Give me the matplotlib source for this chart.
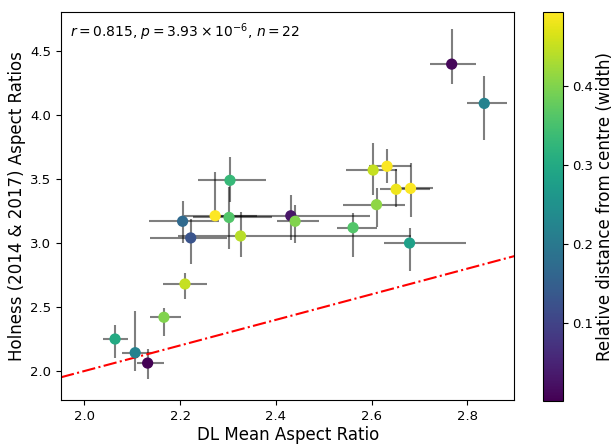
import numpy as np
import matplotlib
matplotlib.use("Agg")
from matplotlib import pyplot as plt

# DL mean aspect ratio per group, with lower/upper x error
dl_mean = [2.064, 2.106, 2.132, 2.166, 2.210, 2.205, 2.222, 2.273, 2.302, 2.304, 2.326,
           2.431, 2.440, 2.561, 2.603, 2.610, 2.632, 2.651, 2.681, 2.679, 2.767, 2.835]
dl_lo = [0.026, 0.028, 0.022, 0.030, 0.045, 0.071, 0.085, 0.066, 0.075, 0.066, 0.130,
         0.166, 0.038, 0.034, 0.056, 0.069, 0.038, 0.033, 0.028, 0.053, 0.045, 0.035]
dl_hi = [0.026, 0.035, 0.035, 0.035, 0.047, 0.075, 0.076, 0.087, 0.090, 0.076, 0.355,
         0.166, 0.049, 0.050, 0.050, 0.060, 0.049, 0.070, 0.048, 0.117, 0.051, 0.048]

# Holness (2014 & 2017) aspect ratios, with lower/upper y error
holness = [2.25, 2.143, 2.062, 2.42, 2.68, 3.17, 3.04, 3.213, 3.20, 3.49, 3.055,
           3.213, 3.17, 3.12, 3.57, 3.30, 3.60, 3.42, 3.427, 3.00, 4.398, 4.091]
hol_lo = [0.146, 0.141, 0.122, 0.147, 0.118, 0.17, 0.20, 0.03, 0.25, 0.17, 0.162,
          0.19, 0.17, 0.227, 0.195, 0.173, 0.134, 0.136, 0.227, 0.22, 0.158, 0.286]
hol_hi = [0.11, 0.326, 0.108, 0.07, 0.088, 0.16, 0.15, 0.344, 0.24, 0.18, 0.19,
          0.16, 0.13, 0.117, 0.209, 0.13, 0.132, 0.156, 0.20, 0.115, 0.272, 0.214]

# relative distance from centre (width) for the colour scale
rel_dist = [0.30, 0.22, 0.002, 0.40, 0.45, 0.17, 0.13, 0.493, 0.36, 0.33, 0.44,
            0.03, 0.40, 0.36, 0.45, 0.41, 0.49, 0.48, 0.49, 0.28, 0.01, 0.22]

stats_text = r"$r = 0.815$, $p = 3.93 \times 10^{-6}$, $n = 22$"

fig = plt.figure(figsize=(6.14, 4.46), dpi=100)
ax = fig.add_axes([0.0993, 0.103, 0.7385, 0.870])
cax = fig.add_axes([0.884, 0.101, 0.0326, 0.872])

ax.errorbar(dl_mean, holness,
            xerr=[dl_lo, dl_hi], yerr=[hol_lo, hol_hi],
            fmt="none", ecolor="k", alpha=0.5, elinewidth=1.5, zorder=1)
sc = ax.scatter(dl_mean, holness, c=rel_dist, cmap="viridis", s=50, zorder=3)

# one-to-one line
ax.axline((2.0, 2.0), (3.0, 3.0), color="r", ls="-.", lw=1.5, zorder=2)

ax.set_xlim(1.951, 2.898)
ax.set_ylim(1.773, 4.805)
ax.set_xticks([2.0, 2.2, 2.4, 2.6, 2.8])
ax.set_yticks([2.0, 2.5, 3.0, 3.5, 4.0, 4.5])
ax.tick_params(labelsize=9.5)
ax.set_xlabel("DL Mean Aspect Ratio", fontsize=12, labelpad=2)
ax.set_ylabel("Holness (2014 & 2017) Aspect Ratios", fontsize=12, labelpad=3)
ax.text(0.02, 0.975, stats_text, transform=ax.transAxes, va="top", ha="left", fontsize=10)

cb = fig.colorbar(sc, cax=cax)
cb.set_ticks([0.1, 0.2, 0.3, 0.4])
cb.ax.tick_params(labelsize=9.5)
cb.set_label("Relative distance from centre (width)", fontsize=12, labelpad=2)

fig.savefig("out.png", dpi=100)
